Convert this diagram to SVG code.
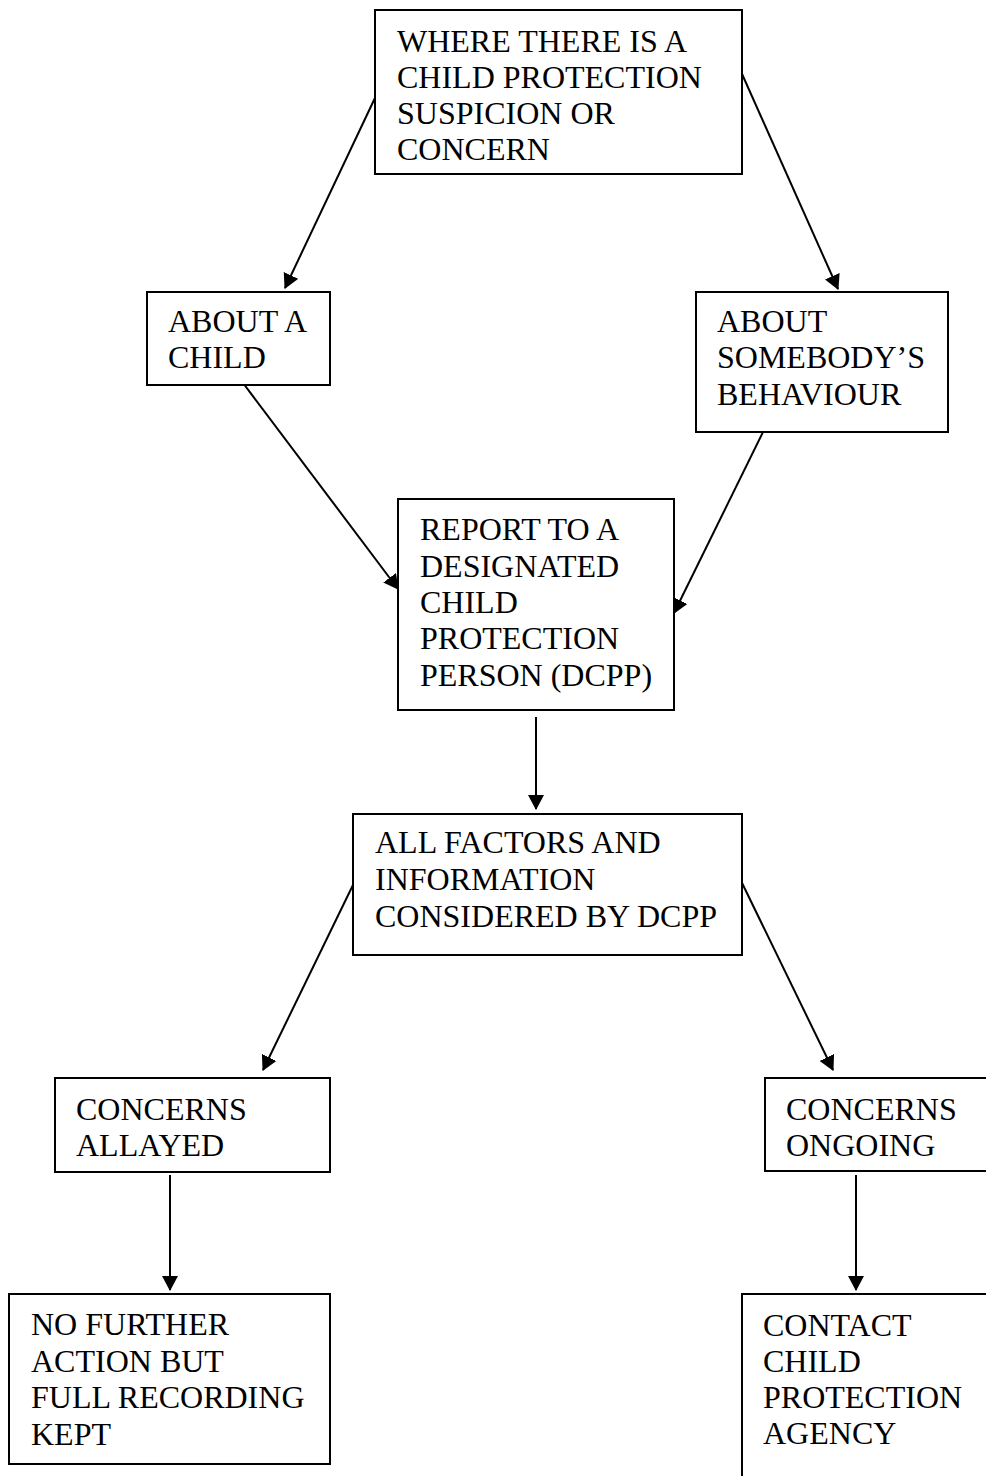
<svg xmlns="http://www.w3.org/2000/svg" width="986" height="1476" viewBox="0 0 986 1476">
<style>
.box{fill:#fff;stroke:#000;stroke-width:2}
.t{font-family:"Liberation Serif","Times New Roman",serif;font-size:32px;fill:#000}
.c{stroke:#000;stroke-width:2;fill:none;marker-end:url(#ah)}
</style>
<defs>
<marker id="ah" markerUnits="userSpaceOnUse" markerWidth="16" markerHeight="16" refX="14" refY="8" orient="auto" viewBox="0 0 16 16">
<path d="M0,0 L15,8 L0,16 z" fill="#000"/>
</marker>
</defs>
<rect width="986" height="1476" fill="#fff"/>
<g id="connectors">
<line class="c" x1="392" y1="62" x2="285" y2="288"/>
<line class="c" x1="730" y1="47" x2="838" y2="289"/>
<line class="c" x1="240" y1="379" x2="398" y2="589"/>
<line class="c" x1="765" y1="428" x2="674" y2="613"/>
<line class="c" x1="536" y1="717" x2="536" y2="809"/>
<line class="c" x1="370" y1="850" x2="263" y2="1070"/>
<line class="c" x1="726" y1="850" x2="833" y2="1070"/>
<line class="c" x1="170" y1="1175" x2="170" y2="1290"/>
<line class="c" x1="856" y1="1175" x2="856" y2="1290"/>
</g>
<g id="n1">
<rect class="box" x="375" y="10" width="367" height="164"/>
<text class="t" x="397" y="52">WHERE THERE IS A</text>
<text class="t" x="397" y="88">CHILD PROTECTION</text>
<text class="t" x="397" y="124">SUSPICION OR</text>
<text class="t" x="397" y="160">CONCERN</text>
</g>
<g id="n2">
<rect class="box" x="147" y="292" width="183" height="93"/>
<text class="t" x="168" y="332">ABOUT A</text>
<text class="t" x="168" y="368">CHILD</text>
</g>
<g id="n3">
<rect class="box" x="696" y="292" width="252" height="140"/>
<text class="t" x="717" y="332">ABOUT</text>
<text class="t" x="717" y="368">SOMEBODY’S</text>
<text class="t" x="717" y="405">BEHAVIOUR</text>
</g>
<g id="n4">
<rect class="box" x="398" y="499" width="276" height="211"/>
<text class="t" x="420" y="540">REPORT TO A</text>
<text class="t" x="420" y="577">DESIGNATED</text>
<text class="t" x="420" y="613">CHILD</text>
<text class="t" x="420" y="649">PROTECTION</text>
<text class="t" x="420" y="686">PERSON (DCPP)</text>
</g>
<g id="n5">
<rect class="box" x="353" y="814" width="389" height="141"/>
<text class="t" x="375" y="853">ALL FACTORS AND</text>
<text class="t" x="375" y="890">INFORMATION</text>
<text class="t" x="375" y="927">CONSIDERED BY DCPP</text>
</g>
<g id="n6">
<rect class="box" x="55" y="1078" width="275" height="94"/>
<text class="t" x="76" y="1120">CONCERNS</text>
<text class="t" x="76" y="1156">ALLAYED</text>
</g>
<g id="n7">
<rect class="box" x="765" y="1078" width="230" height="93"/>
<text class="t" x="786" y="1120">CONCERNS</text>
<text class="t" x="786" y="1156">ONGOING</text>
</g>
<g id="n8">
<rect class="box" x="9" y="1294" width="321" height="170"/>
<text class="t" x="31" y="1335">NO FURTHER</text>
<text class="t" x="31" y="1372">ACTION BUT</text>
<text class="t" x="31" y="1408">FULL RECORDING</text>
<text class="t" x="31" y="1445">KEPT</text>
</g>
<g id="n9">
<rect class="box" x="742" y="1294" width="260" height="200"/>
<text class="t" x="763" y="1336">CONTACT</text>
<text class="t" x="763" y="1372">CHILD</text>
<text class="t" x="763" y="1408">PROTECTION</text>
<text class="t" x="763" y="1444">AGENCY</text>
</g>
</svg>
